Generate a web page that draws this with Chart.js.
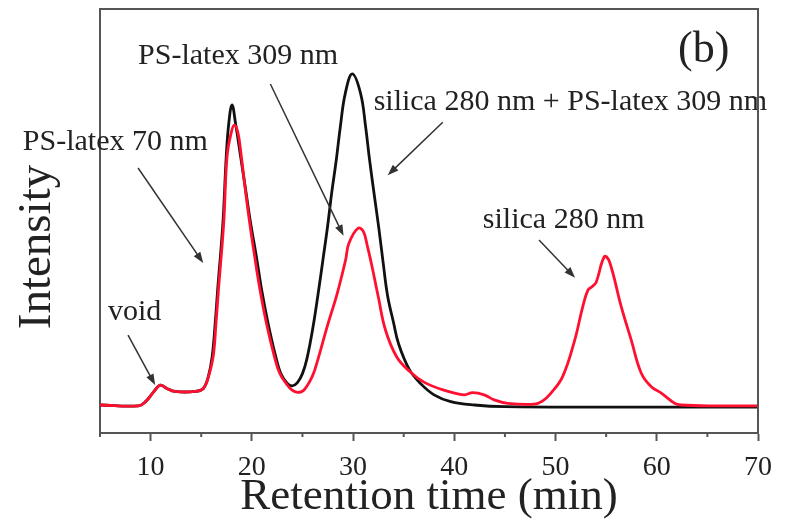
<!DOCTYPE html>
<html>
<head>
<meta charset="utf-8">
<script src="https://cdn.jsdelivr.net/npm/chart.js@4.4.1/dist/chart.umd.min.js"></script>
<style>
  html, body { margin: 0; padding: 0; background: #fff; }
  canvas { display: block; }
</style>
</head>
<body>
<canvas id="chart" width="792" height="523"></canvas>
<script>
// retention time (min) / intensity (a.u.)
const blackTime = [5, 8.8, 9.5, 10.3, 10.95, 11.6, 12.4, 14.4, 15.2, 15.7, 16.08, 16.38, 16.62, 17.14, 17.47, 17.72, 18.04, 18.39, 18.89, 19.39,
  19.88, 20.45, 20.97, 21.6, 22.36, 22.85, 23.5, 23.98, 24.5, 25.0, 25.45, 26.05, 26.55, 27.02, 27.48, 27.88, 28.34, 28.74, 29.23, 29.92,
  30.74, 31.24, 31.63, 32.1, 32.55, 32.97, 33.4, 34.0, 34.5, 35.55, 36.65, 38.0, 39.65, 42.0, 45, 55, 70];
const blackInt = [6.6, 6.4, 7.4, 9.7, 11.3, 10.5, 9.8, 9.8, 10.5, 13.3, 18.0, 25.9, 33.7, 49.5, 65.2, 73.0, 77.4, 73.0, 65.2, 57.3,
  49.5, 41.6, 33.7, 25.9, 18.0, 14.1, 11.7, 11.1, 11.9, 14.0, 17.6, 25.1, 32.9, 40.8, 48.7, 56.5, 64.4, 72.2, 80.1, 84.7,
  80.1, 72.2, 64.4, 56.0, 48.2, 40.2, 32.5, 26.0, 21.0, 15.0, 11.7, 9.0, 7.4, 6.6, 6.2, 6.1, 6.1];

// red trace
const redTime = [5, 8.8, 9.5, 10.3, 10.95, 11.6, 12.4, 14.4, 15.2, 15.72, 16.18, 16.46, 16.7, 17.22, 17.55, 17.97, 18.27, 18.62, 18.96, 19.36,
  19.79, 20.28, 20.81, 21.44, 22.23, 22.75, 23.38, 23.98, 24.5, 25.13, 25.96, 26.51, 27.44, 28.43, 29.26, 29.58, 30.48, 31.0, 31.4, 31.85,
  32.5, 33.2, 34.3, 35.6, 37.0, 38.98, 40.96, 41.8, 42.95, 43.94, 45.27, 47.9, 48.7, 49.55, 50.7, 51.86, 52.69, 53.2, 53.6, 54.0,
  54.83, 55.33, 56.49, 57.48, 58.47, 59.46, 60.45, 61.76, 62.4, 66, 70];
const redInt = [6.6, 6.4, 7.4, 9.7, 11.3, 10.5, 9.8, 9.8, 10.5, 13.3, 18.0, 25.9, 33.7, 49.5, 65.2, 70.9, 72.6, 70.9, 65.2, 57.3,
  49.5, 41.6, 33.7, 25.9, 18.0, 14.1, 11.7, 10.1, 9.6, 10.1, 13.3, 17.2, 25.1, 32.9, 40.8, 44.7, 48.3, 47.6, 44.2, 39.5,
  32.0, 24.3, 18.0, 14.5, 12.0, 10.1, 9.0, 9.5, 9.0, 7.8, 7.0, 6.8, 7.5, 9.4, 13.3, 21.6, 29.8, 33.7, 34.5, 35.5,
  41.6, 40.4, 29.8, 21.9, 14.1, 10.9, 9.4, 7.0, 6.6, 6.4, 6.4];

const tickLabels = [10, 20, 30, 40, 50, 60, 70];
const minorTicks = [5, 15, 25, 35, 45, 55, 65];

// labels and arrows, placed in data units
const notes = [
  { text: 'PS-latex 70 nm', x: -2.62, y: 66.7, size: 30 },
  { text: 'PS-latex 309 nm', x: 8.76, y: 87.0, size: 30 },
  { text: 'silica 280 nm + PS-latex 309 nm', x: 32.03, y: 76.2, size: 30 },
  { text: 'silica 280 nm', x: 42.82, y: 48.3, size: 30 },
  { text: 'void', x: 5.79, y: 26.7, size: 30 },
  { text: '(b)', x: 62.1, y: 87.5, size: 44 }
];
const arrows = [
  { from: [8.76, 62.5], to: [15.2, 40.1] },
  { from: [21.83, 82.3], to: [29.06, 46.5] },
  { from: [38.86, 73.3], to: [33.42, 60.8] },
  { from: [48.37, 45.5], to: [51.93, 36.6] },
  { from: [7.77, 23.1], to: [10.45, 11.3] }
];

const serif = "'Liberation Serif', 'Times New Roman', serif";
const frameColor = '#555';

function toPoints(xs, ys) {
  return xs.map((v, i) => ({ x: v, y: ys[i] }));
}

function drawArrow(ctx, x0, y0, x1, y1) {
  const a = Math.atan2(y1 - y0, x1 - x0);
  const head = 11, half = 4;
  ctx.beginPath();
  ctx.moveTo(x0, y0);
  ctx.lineTo(x1 - Math.cos(a) * head * 0.7, y1 - Math.sin(a) * head * 0.7);
  ctx.stroke();
  ctx.beginPath();
  ctx.moveTo(x1, y1);
  ctx.lineTo(x1 - head * Math.cos(a) + half * Math.sin(a), y1 - head * Math.sin(a) - half * Math.cos(a));
  ctx.lineTo(x1 - head * Math.cos(a) - half * Math.sin(a), y1 - head * Math.sin(a) + half * Math.cos(a));
  ctx.closePath();
  ctx.fill();
}

const notePlugin = {
  id: 'notes',
  afterDatasetsDraw(chart) {
    const { ctx, scales: { x, y } } = chart;
    ctx.save();
    ctx.fillStyle = '#222';
    ctx.textAlign = 'left';
    ctx.textBaseline = 'alphabetic';
    notes.forEach(n => {
      ctx.font = n.size + 'px ' + serif;
      ctx.fillText(n.text, x.getPixelForValue(n.x), y.getPixelForValue(n.y));
    });
    ctx.strokeStyle = '#333';
    ctx.fillStyle = '#333';
    ctx.lineWidth = 1.5;
    arrows.forEach(a => {
      drawArrow(ctx, x.getPixelForValue(a.from[0]), y.getPixelForValue(a.from[1]),
        x.getPixelForValue(a.to[0]), y.getPixelForValue(a.to[1]));
    });
    ctx.restore();
  },
  afterDraw(chart) {
    const { ctx, chartArea: area, scales: { x } } = chart;
    ctx.save();
    // top and right sides of the frame
    ctx.strokeStyle = frameColor;
    ctx.lineWidth = 2;
    ctx.beginPath();
    ctx.moveTo(area.left, area.top);
    ctx.lineTo(area.right, area.top);
    ctx.lineTo(area.right, area.bottom);
    ctx.stroke();
    // short minor ticks
    minorTicks.forEach(v => {
      const px = x.getPixelForValue(v);
      ctx.beginPath();
      ctx.moveTo(px, area.bottom);
      ctx.lineTo(px, area.bottom + 4);
      ctx.stroke();
    });
    // y axis title
    ctx.fillStyle = '#222';
    ctx.font = '47px ' + serif;
    ctx.textAlign = 'center';
    ctx.textBaseline = 'alphabetic';
    ctx.translate(50, 247);
    ctx.rotate(-Math.PI / 2);
    ctx.fillText('Intensity', 0, 0);
    ctx.restore();
  }
};

new Chart(document.getElementById('chart'), {
  type: 'line',
  data: {
    datasets: [
      {
        label: 'red',
        data: toPoints(redTime, redInt),
        borderColor: '#ff1030',
        borderWidth: 2.8,
        pointRadius: 0,
        tension: 0.4,
        order: 1
      },
      {
        label: 'black',
        data: toPoints(blackTime, blackInt),
        borderColor: '#111111',
        borderWidth: 2.8,
        pointRadius: 0,
        tension: 0.4,
        order: 2
      }
    ]
  },
  options: {
    responsive: false,
    animation: false,
    devicePixelRatio: 1,
    layout: { padding: { left: 0, right: 34, top: 9, bottom: 0 } },
    plugins: { legend: { display: false }, tooltip: { enabled: false } },
    scales: {
      x: {
        type: 'linear',
        min: 5,
        max: 70,
        border: { color: frameColor, width: 2 },
        grid: {
          drawOnChartArea: false,
          drawTicks: true,
          tickLength: 8,
          tickWidth: 2,
          tickColor: ctx => (ctx.tick && tickLabels.includes(ctx.tick.value)) ? frameColor : 'rgba(0,0,0,0)'
        },
        ticks: {
          stepSize: 5,
          autoSkip: false,
          maxRotation: 0,
          padding: 10,
          color: '#222',
          font: { family: serif, size: 28 },
          callback: v => tickLabels.includes(v) ? String(v) : ''
        },
        title: {
          display: true,
          text: 'Retention time (min)',
          color: '#222',
          font: { family: serif, size: 45, lineHeight: 1.1 },
          padding: { top: 0, bottom: 1 }
        },
        afterFit: s => { s.height = 90; }
      },
      y: {
        min: 0,
        max: 100,
        border: { color: frameColor, width: 2 },
        grid: { drawOnChartArea: false, drawTicks: false },
        ticks: { display: false },
        afterFit: s => { s.width = 100; }
      }
    }
  },
  plugins: [notePlugin]
});
</script>
</body>
</html>
